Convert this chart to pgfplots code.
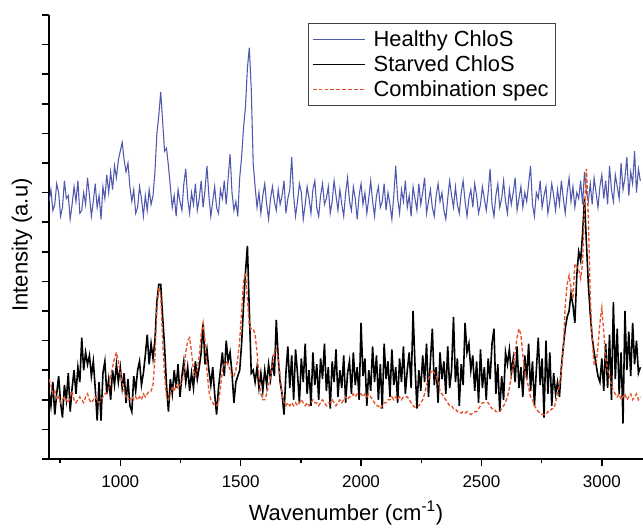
\documentclass[border=0pt]{standalone}
\usepackage{fontspec}
\setmainfont{Liberation Sans}
\usepackage{pgfplots}
\usepackage{pgfplotstable}
\pgfplotsset{compat=1.18}
\definecolor{healthy}{RGB}{78,88,172}
\definecolor{combo}{RGB}{228,82,42}
\pgfplotstableread{
x h s c
704 8.7 2.3 2.7
712 9.1 1.8 2.5
720 8.4 2.6 2.2
728 8.6 1.5 2.3
736 9.3 2.2 2.0
744 9.0 2.8 2.1
752 8.2 1.9 1.9
760 8.5 1.4 2.0
768 9.4 2.5 2.1
776 8.8 2.0 2.0
784 8.9 2.9 1.9
792 8.1 1.6 2.1
800 8.6 2.4 2.3
808 9.2 3.0 2.0
816 8.7 2.2 1.9
824 9.4 3.1 2.0
832 8.3 2.6 2.1
840 8.4 4.1 2.0
848 9.0 3.0 1.9
856 8.6 3.6 2.1
864 9.5 3.2 2.2
872 8.9 3.5 2.0
880 8.2 2.8 1.9
888 8.7 3.3 2.0
896 9.3 2.4 2.1
904 8.5 1.3 2.0
912 8.9 2.6 1.9
920 8.1 1.3 2.0
928 9.2 2.9 2.1
936 8.8 3.3 2.2
944 9.6 2.2 2.2
952 9.0 2.7 2.4
960 9.7 2.0 2.8
968 9.1 3.0 3.1
976 9.9 2.5 3.4
984 9.5 3.2 3.6
992 10.1 2.6 3.3
1000 10.4 3.1 2.9
1008 10.7 2.4 2.6
1016 10.1 2.9 2.3
1024 9.7 1.9 2.1
1032 10.0 2.7 2.0
1040 9.2 1.8 2.0
1048 8.7 1.6 2.1
1056 9.1 2.8 2.0
1064 8.3 2.3 2.1
1072 8.5 3.0 2.0
1080 9.2 3.3 2.1
1088 8.8 2.5 2.0
1096 8.2 2.9 2.2
1104 8.9 3.5 2.1
1112 8.4 4.2 2.2
1120 9.1 3.2 2.3
1128 8.6 3.9 2.3
1136 8.9 3.4 2.5
1144 9.7 4.0 3.4
1152 11.0 5.3 5.0
1160 11.6 5.9 5.8
1168 12.4 5.9 5.5
1176 11.4 4.8 4.0
1184 10.4 3.8 2.8
1192 10.5 2.5 2.1
1200 9.9 1.6 2.0
1208 9.2 2.7 2.2
1216 8.5 2.2 2.4
1224 8.9 3.0 2.3
1232 8.2 2.4 2.5
1240 9.1 3.2 2.4
1248 8.7 2.1 2.5
1256 8.4 2.8 2.6
1264 9.3 3.3 2.9
1272 9.8 2.6 3.6
1280 8.8 3.1 4.0
1288 8.3 2.3 4.1
1296 9.0 2.9 3.6
1304 8.6 2.4 3.0
1312 9.3 3.3 2.8
1320 8.4 2.7 3.0
1328 8.8 3.1 3.5
1336 9.4 3.6 4.2
1344 8.5 4.6 4.6
1352 9.1 3.2 4.0
1360 9.9 3.7 3.0
1368 8.9 3.0 2.3
1376 8.2 2.5 2.0
1384 8.7 3.1 1.9
1392 9.2 2.2 1.8
1400 8.5 1.5 1.8
1408 8.3 2.4 1.9
1416 9.1 3.0 2.4
1424 8.8 3.6 3.0
1432 9.4 2.8 3.2
1440 8.6 4.0 3.3
1448 9.5 3.3 3.2
1456 10.3 3.6 3.0
1464 9.0 2.9 2.8
1472 8.4 1.9 2.8
1480 8.7 2.6 3.0
1488 8.2 2.8 3.4
1496 9.5 3.0 4.0
1504 10.2 3.9 5.0
1512 11.2 5.2 6.0
1520 11.9 6.3 6.3
1528 13.2 7.2 5.4
1536 13.9 5.0 4.5
1544 12.5 2.9 4.4
1552 10.0 3.0 4.4
1560 9.2 2.6 4.2
1568 8.5 3.1 3.6
1576 9.0 2.4 2.8
1584 8.3 2.9 2.2
1592 8.9 2.3 2.0
1600 9.3 3.0 2.0
1608 8.6 2.5 2.2
1616 8.1 3.2 2.5
1624 8.8 2.7 2.8
1632 9.2 3.3 3.2
1640 8.7 2.8 3.6
1648 8.4 4.7 3.7
1656 9.1 3.4 3.4
1664 8.6 2.6 2.8
1672 8.9 2.2 2.2
1680 9.4 1.5 1.9
1688 8.3 2.9 1.8
1696 8.8 3.8 1.9
1704 9.1 2.4 1.8
1712 10.2 3.5 1.9
1720 8.9 2.0 1.8
1728 8.2 3.7 1.9
1736 8.7 2.9 1.8
1744 9.3 1.9 1.9
1752 9.0 3.4 2.0
1760 8.1 2.6 1.9
1768 8.6 3.9 1.8
1776 9.2 2.2 1.9
1784 8.8 3.0 1.8
1792 8.3 1.8 1.9
1800 9.1 3.6 2.0
1808 9.4 2.5 1.9
1816 8.5 3.2 1.9
1824 8.2 2.0 1.8
1832 8.9 3.4 1.9
1840 9.3 2.7 2.0
1848 8.6 3.9 1.9
1856 8.8 2.3 1.8
1864 9.2 3.1 1.9
1872 8.3 1.7 1.9
1880 8.7 3.3 2.0
1888 9.4 2.6 1.9
1896 8.9 3.7 1.8
1904 8.4 2.1 1.9
1912 9.1 3.0 2.0
1920 8.6 2.4 1.9
1928 8.2 3.5 2.0
1936 9.0 1.9 2.1
1944 9.5 2.9 2.0
1952 8.7 3.3 2.1
1960 8.4 2.2 2.1
1968 9.2 3.6 2.2
1976 8.8 2.5 2.1
1984 8.1 3.1 2.2
1992 8.9 2.0 2.2
2000 9.3 4.6 2.2
2008 8.6 2.8 2.1
2016 9.0 3.4 2.2
2024 8.3 1.8 2.1
2032 8.8 3.0 2.2
2040 9.4 2.3 2.1
2048 8.7 3.8 2.0
2056 8.2 2.6 1.9
2064 8.9 3.5 1.8
2072 9.2 2.0 1.8
2080 8.5 3.2 1.7
2088 8.7 1.7 1.8
2096 9.3 3.9 1.9
2104 8.4 2.7 1.9
2112 9.0 3.3 2.0
2120 8.6 2.1 2.0
2128 8.1 3.7 2.1
2136 8.9 2.5 2.0
2144 9.9 3.1 2.1
2152 8.8 1.9 2.0
2160 8.3 3.4 2.1
2168 9.1 2.6 2.0
2176 8.7 3.8 2.1
2184 9.4 2.2 2.1
2192 8.5 3.0 2.1
2200 8.9 3.6 2.0
2208 8.2 2.4 1.9
2216 9.2 5.0 1.8
2224 8.8 3.2 1.75
2232 8.4 1.7 1.75
2240 9.3 3.0 1.8
2248 8.6 2.3 1.9
2256 9.0 3.5 2.0
2264 9.5 2.6 2.2
2272 8.3 3.9 2.5
2280 8.7 2.1 2.7
2288 9.1 3.3 2.9
2296 8.5 4.4 3.0
2304 8.2 2.5 2.9
2312 8.9 3.1 2.8
2320 9.3 1.9 2.6
2328 8.7 3.6 2.3
2336 9.0 2.7 2.2
2344 8.4 3.3 2.1
2352 8.1 2.2 2.0
2360 8.8 3.8 1.9
2368 9.4 2.4 1.8
2376 8.9 3.0 1.8
2384 8.5 4.8 1.7
2392 9.2 2.6 1.7
2400 8.6 3.4 1.6
2408 8.3 1.8 1.6
2416 9.0 3.2 1.55
2424 9.4 2.5 1.6
2432 8.7 4.6 1.55
2440 8.2 3.6 1.6
2448 8.8 3.9 1.55
2456 9.1 3.0 1.5
2464 8.5 3.5 1.55
2472 9.3 2.3 1.6
2480 8.9 3.3 1.6
2488 8.3 1.9 1.7
2496 8.6 3.7 1.8
2504 9.2 2.4 1.9
2512 8.8 3.1 1.9
2520 8.4 2.0 1.9
2528 9.0 3.4 1.9
2536 9.8 2.7 1.8
2544 8.6 3.9 1.7
2552 8.2 4.4 1.7
2560 8.9 2.2 1.6
2568 9.3 3.2 1.6
2576 8.5 1.6 1.6
2584 8.8 2.8 1.7
2592 9.4 2.0 1.8
2600 8.7 3.6 1.9
2608 8.3 3.2 2.1
2616 9.1 3.7 2.4
2624 8.6 2.9 2.8
2632 9.0 3.4 3.2
2640 9.5 2.6 3.6
2648 8.4 3.8 4.1
2656 8.8 2.4 4.4
2664 9.2 3.1 4.2
2672 8.5 2.1 3.5
2680 9.0 3.5 3.0
2688 8.7 2.7 2.7
2696 9.3 3.9 2.4
2704 9.9 2.3 2.1
2712 8.6 3.3 2.0
2720 8.2 1.8 1.8
2728 9.0 3.0 1.7
2736 8.8 4.1 1.6
2744 9.4 2.5 1.55
2752 8.5 3.4 1.5
2760 8.9 1.4 1.5
2768 9.2 4.0 1.5
2776 8.3 2.2 1.6
2784 8.7 3.6 1.6
2792 9.3 1.8 1.7
2800 8.9 2.9 1.7
2808 8.4 2.2 1.9
2816 9.1 2.6 2.2
2824 8.6 2.1 2.5
2832 9.4 3.1 3.0
2840 8.8 3.8 3.7
2848 8.3 4.4 5.2
2856 9.0 4.8 5.9
2864 9.5 5.0 6.2
2872 8.7 5.6 5.8
2880 9.2 5.2 5.4
2888 8.5 4.6 6.6
2896 9.0 6.2 6.5
2904 8.8 7.0 6.4
2912 9.4 6.7 6.1
2920 8.6 7.6 6.6
2928 9.7 8.8 8.5
2936 9.0 7.3 9.8
2944 8.7 5.9 8.2
2952 9.3 4.9 5.5
2960 8.6 4.1 4.0
2968 9.5 3.6 3.2
2976 9.0 3.2 3.2
2984 8.5 2.8 3.8
2992 9.2 2.6 4.6
3000 9.6 3.4 5.1
3008 8.8 2.3 4.3
3016 9.4 3.9 3.4
3024 8.6 2.4 3.0
3032 9.9 4.2 2.8
3040 9.1 2.0 2.5
3048 8.7 5.3 2.3
3056 9.6 2.7 2.2
3064 9.2 4.4 2.1
3072 8.8 2.2 2.2
3080 10.0 3.6 2.0
3088 9.1 1.2 2.1
3096 9.5 5.0 2.2
3104 10.2 3.0 2.0
3112 8.9 4.3 2.1
3120 9.7 2.8 2.2
3128 9.3 4.6 2.0
3136 10.4 3.2 2.1
3144 9.0 4.0 2.2
3152 9.8 2.9 2.0
3160 9.4 3.1 2.1
}\spectra
\begin{document}
\begin{tikzpicture}
\useasboundingbox (-36.75pt,-52.5pt) rectangle (445.5pt,344.25pt);
\begin{axis}[
  at={(0pt,0pt)}, anchor=south west,
  scale only axis, width=445.5pt, height=333pt,
  xmin=704, xmax=3171, ymin=0, ymax=15,
  axis x line*=bottom, axis y line*=left,
  axis line style={line width=1.2pt},
  tick align=outside,
  xtick={1000,1500,2000,2500,3000},
  minor xtick={750,1250,1750,2250,2750},
  ytick={0,1,...,15}, yticklabels={},
  major tick length=5.3pt, minor tick length=3.3pt,
  every tick/.style={black, line width=1.1pt},
  scaled x ticks=false,
  xticklabel style={font=\fontsize{12.75}{14}\selectfont, yshift=-3.5pt, /pgf/number format/assume math mode=true, /pgf/number format/1000 sep={}},
  xlabel={Wavenumber (cm\textsuperscript{-1})},
  ylabel={Intensity (a.u)},
  xlabel style={at={(axis description cs:0.5,-0.1216)}, anchor=center, font=\fontsize{16.5}{18}\selectfont},
  ylabel style={at={(axis description cs:-0.0455,0.482)}, anchor=center, font=\fontsize{16.5}{18}\selectfont},
  legend style={at={(axis description cs:0.4355,0.981)}, anchor=north west, draw=black!75, line width=0.6pt,
    font=\fontsize{16.4}{17}\selectfont, inner xsep=3pt, inner ysep=3pt, row sep=1.5pt,
    /tikz/every odd column/.append style={column sep=4pt}},
  legend cell align=left,
  legend image code/.code={\draw[#1] (0pt,0pt) -- (39pt,0pt);},
]
\addplot[healthy, line width=0.8pt] table[x=x, y=h]{\spectra};
\addlegendentry{Healthy ChloS}
\addplot[black, line width=1.2pt] table[x=x, y=s]{\spectra};
\addlegendentry{Starved ChloS}
\addplot[combo, line width=1.0pt, dash pattern=on 2.8pt off 1.6pt] table[x=x, y=c]{\spectra};
\addlegendentry{Combination spec}
\end{axis}
\end{tikzpicture}
\end{document}
